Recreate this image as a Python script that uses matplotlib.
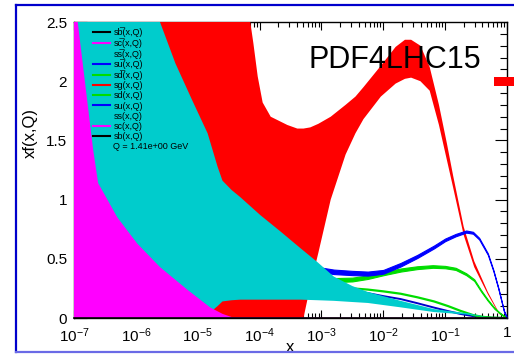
import numpy as np
import matplotlib
matplotlib.use("Agg")
import matplotlib.pyplot as plt
from matplotlib.lines import Line2D
from matplotlib.patches import Rectangle
from matplotlib.ticker import FixedLocator, FixedFormatter, MultipleLocator, LogLocator, NullFormatter

plt.rcParams['font.family'] = ['Liberation Sans', 'DejaVu Sans']
plt.rcParams['mathtext.fontset'] = 'custom'
plt.rcParams['mathtext.rm'] = 'Liberation Sans'
plt.rcParams['mathtext.it'] = 'Liberation Sans:italic'
plt.rcParams['mathtext.default'] = 'regular'

# ---------------- data (log10 x positions and xf(x,Q) values) ----------------
# gluon band (red)
g_logx = [-7.0, -6.0, -5.0, -4.6, -4.15, -4.10, -4.03, -3.95, -3.82, -3.55,
          -3.39, -3.29, -3.18, -3.05, -2.85, -2.61, -2.45, -2.32, -2.04, -1.80,
          -1.65, -1.55, -1.40, -1.25, -1.10, -0.97, -0.87, -0.70, -0.53, -0.31,
          -0.13, 0.0]
g_hi = [12, 8, 4.0, 3.2, 2.5, 2.32, 2.04, 1.82, 1.70, 1.63,
        1.60, 1.60, 1.61, 1.64, 1.70, 1.80, 1.87, 1.95, 2.13, 2.29,
        2.35, 2.35, 2.30, 2.12, 1.80, 1.47, 1.20, 0.77, 0.48, 0.22,
        0.045, 0.0]
g_lo = [-8, -5, -2.5, -1.8, -1.1, -1.0, -0.9, -0.8, -0.6, -0.3,
        -0.1, 0.0, 0.27, 0.55, 1.0, 1.38, 1.56, 1.68, 1.87, 1.98,
        2.02, 2.03, 2.0, 1.92, 1.63, 1.33, 1.10, 0.70, 0.43, 0.20,
        0.035, 0.0]

# strange band (cyan)
s_logx = [-7.0, -6.5, -6.0, -5.61, -5.36, -5.09, -4.84, -4.68, -4.60, -4.45,
          -4.31, -3.99, -3.66, -3.34, -3.06, -2.80, -2.50, -2.25, -1.72, -1.18,
          -0.63, -0.34, -0.15, 0.0]
s_hi = [9.0, 5.0, 3.3, 2.5, 2.15, 1.84, 1.56, 1.28, 1.16, 1.08,
        1.02, 0.87, 0.73, 0.59, 0.47, 0.35, 0.27, 0.22, 0.145, 0.075,
        0.04, 0.01, 0.0, 0.0]
s_lo = [-3.0, -1.5, -0.6, -0.3, -0.15, -0.05, 0.03, 0.10, 0.14, 0.15,
        0.155, 0.155, 0.155, 0.155, 0.15, 0.145, 0.135, 0.127, 0.09, 0.05,
        0.028, 0.008, 0.0, 0.0]

# charm band (magenta)
c_logx = [-7.0, -6.94, -6.69, -6.61, -6.30, -5.98, -5.61, -5.17, -4.80, -4.60, -4.45, -3.0, 0.0]
c_hi = [4.0, 2.5, 1.42, 1.14, 0.85, 0.63, 0.43, 0.24, 0.09, 0.035, 0.008, 0.003, 0.003]
c_lo = [-4.0, -3.0, -2.0, -1.6, -1.2, -0.9, -0.6, -0.3, -0.1, -0.05, -0.02, 0.0, 0.0]

# u quark (blue band)
u_logx = [-3.6, -3.34, -3.05, -2.80, -2.50, -2.25, -2.00, -1.72, -1.45, -1.18,
          -1.00, -0.83, -0.66, -0.55, -0.45, -0.31, -0.22, -0.14, -0.05, 0.0]
u_mid = [0.50, 0.44, 0.41, 0.39, 0.38, 0.375, 0.39, 0.45, 0.52, 0.60,
         0.66, 0.70, 0.73, 0.72, 0.67, 0.54, 0.40, 0.25, 0.06, 0.0]
u_err = [0.024, 0.022, 0.02, 0.019, 0.018, 0.017, 0.016, 0.015, 0.013, 0.012,
         0.011, 0.010, 0.009, 0.008, 0.007, 0.006, 0.005, 0.004, 0.003, 0.002]

# d quark (green band)
d_logx = [-3.6, -3.34, -3.05, -2.80, -2.50, -2.25, -2.00, -1.72, -1.45, -1.20,
          -1.00, -0.83, -0.66, -0.53, -0.42, -0.31, -0.20, -0.10, 0.0]
d_mid = [0.37, 0.35, 0.335, 0.32, 0.325, 0.345, 0.375, 0.405, 0.425, 0.435,
         0.43, 0.415, 0.37, 0.32, 0.23, 0.15, 0.08, 0.035, 0.0]
d_err = [0.02, 0.019, 0.018, 0.017, 0.016, 0.015, 0.014, 0.013, 0.012, 0.011,
         0.010, 0.009, 0.008, 0.007, 0.006, 0.005, 0.004, 0.003, 0.002]

# anti-quarks (lines)
sea_logx = [-3.3, -2.80, -2.50, -2.25, -2.00, -1.72, -1.45, -1.18, -0.95, -0.75, -0.55, -0.40, -0.25, 0.0]
ubar_val = [0.29, 0.25, 0.23, 0.21, 0.185, 0.16, 0.125, 0.088, 0.058, 0.034, 0.016, 0.007, 0.002, 0.0]
dbar_val = [0.30, 0.265, 0.25, 0.24, 0.225, 0.205, 0.175, 0.14, 0.10, 0.06, 0.025, 0.01, 0.003, 0.0]

# bottom (zero below threshold)
b_logx = [-7.0, 0.0]
b_val = [0.0, 0.0]

xtick_pos = [1e-7, 1e-6, 1e-5, 1e-4, 1e-3, 1e-2, 1e-1, 1]
xtick_labels = ["$10^{-7}$", "$10^{-6}$", "$10^{-5}$", "$10^{-4}$",
                "$10^{-3}$", "$10^{-2}$", "$10^{-1}$", "1"]
ytick_pos = [0, 0.5, 1.0, 1.5, 2.0, 2.5]
ytick_labels = ["0", "0.5", "1", "1.5", "2", "2.5"]

legend_labels = ["sb\u0305(x,Q)", "sc\u0305(x,Q)", "ss\u0305(x,Q)", "su\u0305(x,Q)",
                 "sd\u0305(x,Q)", "sg(x,Q)", "sd(x,Q)", "su(x,Q)", "ss(x,Q)", "sc(x,Q)",
                 "sb(x,Q)", "Q = 1.41e+00 GeV"]
legend_colors = ["#000000", "#ff00ff", "#00cccc", "#0000ff", "#00dd00", "#ff0000",
                 "#00dd00", "#0000ff", "#00cccc", "#ff00ff", "#000000", "none"]

RED = "#ff0000"
CYAN = "#00cccc"
MAG = "#ff00ff"
BLUE = "#0000ff"
DBLUE = "#0000cc"
GREEN = "#00dd00"

def X(lx):
    return 10.0 ** np.asarray(lx, dtype=float)

# ---------------- figure ----------------
W, H = 514, 355
fig = plt.figure(figsize=(W / 100, H / 100), dpi=100)
ax = fig.add_axes([74 / W, (H - 318) / H, 433 / W, 296 / H])
ax.set_xscale("log")
ax.set_xlim(1e-7, 1)
ax.set_ylim(0, 2.5)

ax.fill_between(X(g_logx), g_lo, g_hi, color=RED, lw=0, zorder=1.0)
ax.plot(X(sea_logx), ubar_val, color=DBLUE, lw=1.4, zorder=1.8)
ax.plot(X(sea_logx), dbar_val, color=GREEN, lw=1.6, zorder=1.8)
ax.fill_between(X(d_logx), np.array(d_mid) - np.array(d_err), np.array(d_mid) + np.array(d_err),
                color=GREEN, lw=0.8, edgecolor=GREEN, zorder=2.0)
ax.fill_between(X(u_logx), np.array(u_mid) - np.array(u_err), np.array(u_mid) + np.array(u_err),
                color=BLUE, lw=0.8, edgecolor=BLUE, zorder=2.1)
ax.fill_between(X(s_logx), s_lo, s_hi, color=CYAN, lw=0, zorder=3.0)
ax.fill_between(X(c_logx), c_lo, c_hi, color=MAG, lw=0, zorder=3.5)
ax.plot(X(b_logx), b_val, color="black", lw=1.2, zorder=4.0, clip_on=False)

# axes styling
ax.set_axisbelow(True)
for sp in ax.spines.values():
    sp.set_zorder(0.6)
    sp.set_linewidth(1.0)
ax.xaxis.set_major_locator(FixedLocator(xtick_pos))
ax.xaxis.set_major_formatter(FixedFormatter(xtick_labels))
ax.xaxis.set_minor_locator(LogLocator(base=10, subs=np.arange(2, 10), numticks=20))
ax.xaxis.set_minor_formatter(NullFormatter())
ax.yaxis.set_major_locator(FixedLocator(ytick_pos))
ax.yaxis.set_major_formatter(FixedFormatter(ytick_labels))
ax.yaxis.set_minor_locator(MultipleLocator(0.1))
ax.tick_params(which="both", direction="in", top=True, right=True, width=0.8)
ax.tick_params(axis="x", which="major", length=6, pad=6, labelsize=11)
ax.tick_params(axis="x", which="minor", length=3.5)
ax.tick_params(axis="y", which="major", length=9, pad=5, labelsize=11)
ax.tick_params(axis="y", which="minor", length=5)

ax.set_xlabel("x", fontsize=12)
ax.xaxis.set_label_coords(0.5, -0.098)
ax.xaxis.label.set_va("center")
ax.set_ylabel("xf(x,Q)", fontsize=12)
ax.yaxis.set_label_coords(-0.10, 0.625)
ax.yaxis.label.set_va("center")

ax.text(0.542, 0.845, "PDF4LHC15", transform=ax.transAxes, fontsize=22,
        ha="left", va="baseline", zorder=6)

handles = [Line2D([0], [0], color=c, lw=1.5) for c in legend_colors]
leg = ax.legend(handles, legend_labels, loc="upper left", bbox_to_anchor=(19 / 433, 1 - 5 / 296),
                frameon=False, fontsize=6.5, handlelength=1.9, handletextpad=0.35,
                handleheight=0.7, labelspacing=0.12, borderaxespad=0, borderpad=0)
leg.set_zorder(7)

# outer frame and stray legend marker
fig.add_artist(Line2D([16 / W, 1.0], [1 - 5 / H, 1 - 5 / H], transform=fig.transFigure,
                      color="#0000cc", lw=1.6))
fig.add_artist(Line2D([16 / W, 16 / W], [1 - 5 / H, 1 - 352 / H], transform=fig.transFigure,
                      color="#0000cc", lw=1.6))
fig.add_artist(Line2D([16 / W, 1.0], [1 - 352 / H, 1 - 352 / H], transform=fig.transFigure,
                      color="#6a6ae6", lw=1.6))
fig.add_artist(Rectangle((494 / W, 1 - 86 / H), 20 / W, 9 / H, transform=fig.transFigure,
                         color=RED, lw=0))

fig.savefig("out.png", dpi=100)
